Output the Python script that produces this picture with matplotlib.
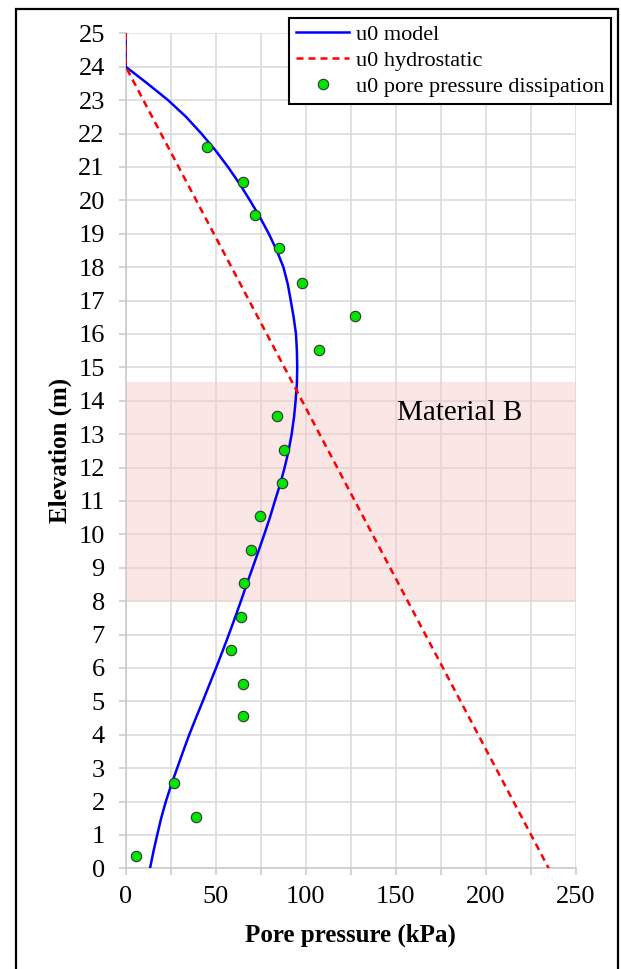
import matplotlib
matplotlib.use("Agg")
from matplotlib import pyplot as plt
from matplotlib.patches import Rectangle
from matplotlib.ticker import MultipleLocator

plt.rcParams['font.family'] = ['Liberation Serif', 'DejaVu Serif']

# u0 model (elevation in m, pore pressure in kPa)
model_elev = [25, 24, 23.5, 23, 22.5, 22, 21.5, 21, 20.5, 20, 19.5, 19, 18.5, 18, 17.5, 17, 16.5, 16,
              15.5, 15, 14.5, 14, 13.5, 13, 12.5, 12, 11.5, 11, 10.5, 10, 9.5, 9, 8.5, 8, 7.5, 7,
              6.5, 6, 5.5, 5, 4.5, 4, 3.5, 3, 2.5, 2, 1.5, 1, 0.5, 0]
model_u = [0, 0, 12, 23.5, 33.5, 42, 49.8, 56.8, 63.2, 69, 74.5, 79.5, 83.9, 87.6, 90, 91.7, 93.3, 94.6,
           95.1, 95.3, 95.1, 94.4, 93.5, 92.2, 90.5, 88.3, 85.8, 82.9, 80.1, 77, 73.8, 70.5, 67.2, 64,
           60.7, 57.3, 53.8, 50.2, 46.5, 42.8, 39, 35.3, 31.9, 28.6, 25.3, 22.3, 19.7, 17.5, 15.4, 13.5]

# u0 hydrostatic
hydro_elev = [25, 24, 0]
hydro_u = [0, 0, 235]

# u0 aus Porendruck-Dissipation
diss_elev = [21.59, 20.56, 19.56, 18.57, 17.53, 16.53, 15.52, 13.54, 12.52, 11.55, 10.54, 9.53,
             8.55, 7.53, 6.54, 5.52, 4.56, 2.56, 1.55, 0.37]
diss_u = [45.4, 65, 71.7, 85, 98.1, 127.4, 107.6, 84.2, 87.8, 86.7, 74.6, 69.5,
          65.7, 64, 58.7, 65.3, 65.3, 26.8, 39, 5.7]

band_bottom, band_top = 8, 14.55
band_label = 'Material B'

W, H = 621, 969
fig = plt.figure(figsize=(W / 100, H / 100), dpi=100)
ax = fig.add_axes([125.7 / W, 1 - 868.3 / H, 450 / W, 835 / H])

ax.set_axisbelow(True)
ax.grid(True, which='both', color='#d9d9d9', linewidth=1.1)
ax.axhspan(band_bottom, band_top, color='#f8c8c8', alpha=0.45, linewidth=0, zorder=1)
ax.text(185.7, 13.63, band_label, fontsize=21, ha='center', va='center', zorder=3)

ax.plot(model_u, model_elev, color='#0000ff', linewidth=1.8, label='u0 model', zorder=3)
ax.plot(hydro_u, hydro_elev, color='#ff0000', linewidth=1.8, dashes=(2.8, 2.0),
        label='u0 hydrostatic', zorder=3)
ax.plot(diss_u, diss_elev, linestyle='none', marker='o', markersize=7.5,
        markerfacecolor='#00e600', markeredgecolor='#333333', markeredgewidth=0.8,
        label='u0 pore pressure dissipation', zorder=4)

ax.set_xlim(0, 250)
ax.set_ylim(0, 25)
ax.xaxis.set_major_locator(MultipleLocator(50))
ax.xaxis.set_minor_locator(MultipleLocator(25))
ax.yaxis.set_major_locator(MultipleLocator(1))
ax.tick_params(axis='both', which='both', direction='out', length=5, width=1.1,
               color='#c8c8c8', labelsize=19)
ax.tick_params(axis='y', pad=10)
ax.tick_params(axis='x', pad=8)

for side in ['top', 'right']:
    ax.spines[side].set_visible(False)
for side in ['left', 'bottom']:
    ax.spines[side].set_color('#c8c8c8')
    ax.spines[side].set_linewidth(1.1)

ax.set_xlabel('Pore pressure (kPa)', fontsize=18, fontweight='bold')
ax.set_ylabel('Elevation (m)', fontsize=18, fontweight='bold')
ax.xaxis.set_label_coords(0.5, -0.066)
ax.yaxis.set_label_coords(-0.12, 0.5)

leg = ax.legend(loc='upper right', bbox_to_anchor=(611 / W, 1 - 18 / H),
                bbox_transform=fig.transFigure, borderaxespad=0, fontsize=16,
                fancybox=False, framealpha=1, edgecolor='black', handlelength=2.4,
                handletextpad=0.3, labelspacing=0.24, borderpad=0.3)
leg.get_frame().set_linewidth(1.5)

# Rahmen um die ganze Abbildung
fig.patches.append(Rectangle((16 / W, -0.05), (618 - 16) / W, 1.05 - 9 / H,
                             transform=fig.transFigure, fill=False,
                             edgecolor='black', linewidth=1.6))

fig.savefig('out.png', dpi=100)
